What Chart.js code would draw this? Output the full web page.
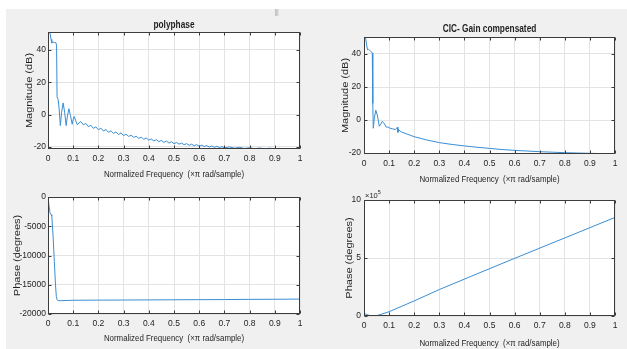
<!DOCTYPE html>
<html>
<head>
<meta charset="utf-8">
<script src="https://cdn.jsdelivr.net/npm/chart.js@4.4.1/dist/chart.umd.min.js"></script>
<style>
  html, body { margin: 0; padding: 0; background: #fff; }
  body { width: 627px; height: 349px; position: relative; overflow: hidden; }
  #panel { position: absolute; left: 6px; top: 9px; right: 0; bottom: 0; background: #f0f0f0; }
  #mark { position: absolute; left: 275px; top: 9px; width: 4px; height: 7px; background: linear-gradient(90deg, #bdbdbd, #e2e2e2); }
  canvas { position: absolute; display: block; }
</style>
</head>
<body>
<div id="panel"></div>
<div id="mark"></div>
<canvas id="magPolyChart" width="313" height="180" style="left:0;top:0"></canvas>
<canvas id="magCicChart" width="314" height="186" style="left:313px;top:0"></canvas>
<canvas id="phPolyChart" width="313" height="169" style="left:0;top:180px"></canvas>
<canvas id="phCicChart" width="314" height="163" style="left:313px;top:186px"></canvas>
<script>
// --- data ---
const freqTicks = [0, 0.1, 0.2, 0.3, 0.4, 0.5, 0.6, 0.7, 0.8, 0.9, 1];
const magTicks = [-20, 0, 20, 40];
const phPolyTicks = [-20000, -15000, -10000, -5000, 0];
const phCicTicks = [0, 500000, 1000000];

// polyphase magnitude (dB)
const freqPoly = [0, 0.004, 0.008, 0.012, 0.015, 0.02, 0.026, 0.031, 0.034, 0.036, 0.04, 0.044, 0.049, 0.054,
  0.06, 0.066, 0.072, 0.077, 0.083, 0.089, 0.096, 0.1, 0.104, 0.11, 0.116,
  0.13, 0.14, 0.15, 0.16, 0.17, 0.18, 0.19, 0.2, 0.21, 0.22, 0.23, 0.24, 0.25, 0.26, 0.27, 0.28, 0.29,
  0.3, 0.31, 0.32, 0.33, 0.34, 0.35, 0.36, 0.37, 0.38, 0.39, 0.4, 0.41, 0.42, 0.43, 0.44, 0.45, 0.46, 0.47,
  0.48, 0.49, 0.5, 0.51, 0.52, 0.53, 0.54, 0.55, 0.56, 0.57, 0.58, 0.59, 0.6, 0.61, 0.62, 0.63, 0.64, 0.65,
  0.66, 0.67, 0.68, 0.69, 0.7, 0.72, 0.74, 0.76, 0.78, 0.8, 0.82, 0.84, 0.86, 0.88, 0.9, 0.92, 0.94, 0.96, 0.98, 1];
const magPoly = [49.8, 51.0, 50.4, 46.5, 44.3, 44.8, 44.7, 44.5, 43, 11, 9.5, 4, -6.8, 1.5,
  7.2, 1.5, -6.8, -1, 3.6, -0.5, -6, -3, -1.2, -3.8, -6.2,
  -4.3, -6.3, -5.5, -7.5, -6.6, -8.5, -7.6, -9.4, -8.4, -10.2, -9.2, -11.0, -10.0, -11.7, -10.7, -12.4, -11.3,
  -13.0, -12.2, -13.5, -12.8, -14.1, -13.4, -14.7, -14.0, -15.3, -14.5, -15.8, -15.1, -16.3, -15.5, -16.7, -16.0, -17.2, -16.4,
  -17.6, -16.8, -18.0, -17.3, -18.3, -17.7, -18.6, -18.0, -19.0, -18.3, -19.3, -18.6, -19.6, -18.9, -19.8, -19.2, -20.1, -19.4,
  -20.3, -19.6, -20.5, -19.8, -20.6, -20.0, -20.8, -20.3, -21.0, -20.5, -21.1, -20.7, -21.2, -20.8, -21.25, -20.9, -21.25, -21.0, -21.25, -21.1];

// CIC gain compensated magnitude (dB)
const freqCic = [0, 0.006, 0.01, 0.014, 0.018, 0.022, 0.026, 0.03, 0.033, 0.035, 0.037, 0.041, 0.047, 0.053, 0.061,
  0.067, 0.073, 0.08, 0.088, 0.096, 0.104, 0.115, 0.125, 0.133, 0.135, 0.137, 0.15, 0.175, 0.2, 0.25,
  0.3, 0.35, 0.4, 0.45, 0.5, 0.55, 0.6, 0.65, 0.7, 0.75, 0.8, 0.85, 0.9, 0.95, 1];
const magCic = [50.3, 50.1, 46, 42.5, 42.8, 42.3, 41.8, 41.3, 40.5, 10, -5, 1, 5.9, 3, -3.8,
  -2.5, -0.8, -2, -4.2, -4.3, -5, -5.4, -5.8, -4.4, -7.5, -5.9, -7.3, -8.7, -10.1, -12.1,
  -13.7, -14.8, -15.7, -16.5, -17.2, -17.9, -18.4, -18.8, -19.2, -19.5, -19.8, -20.0, -20.2, -20.35, -20.5];

// polyphase phase (degrees)
const freqPolyPh = [0, 0.004, 0.008, 0.012, 0.015, 0.02, 0.025, 0.03, 0.033, 0.036, 0.04, 0.05, 0.1,
  0.2, 0.3, 0.4, 0.5, 0.6, 0.7, 0.8, 0.9, 1];
const phPoly = [0, -1500, -2700, -3000, -3200, -6500, -11000, -15200, -17000, -17550, -17700, -17720, -17650,
  -17630, -17610, -17590, -17570, -17550, -17530, -17500, -17480, -17450];

// CIC phase (degrees)
const freqCicPh = [0, 0.01, 0.02, 0.03, 0.045, 0.06, 0.1, 0.2, 0.3, 0.45, 0.6, 0.8, 1];
const phCic = [21000, 14000, 6000, 800, 0, 9000, 37000, 130000, 228000, 363000, 497000, 673000, 850000];

const FONT = "'Liberation Sans', Arial, sans-serif";
const TXT = '#1f1f1f';
const AXIS = '#3c3c3c';
const GRID = '#e3e3e3';
const LINE = '#3a8ed4';
const SQUEEZE = 0.83; // the screenshot is a bit narrower than tall
const X_LABEL = 'Normalized Frequency  (×π rad/sample)';

// draw text squeezed horizontally, optionally rotated
function squeezedText(ctx, text, x, y, font, rotate) {
  ctx.save();
  ctx.translate(x, y);
  ctx.scale(SQUEEZE, 1);
  if (rotate) ctx.rotate(-Math.PI / 2);
  ctx.font = font;
  ctx.textAlign = 'center';
  ctx.textBaseline = 'middle';
  ctx.fillText(text, 0, 0);
  ctx.restore();
}

// MATLAB-ish axes: white plot area, box, inward ticks, titles, exponent
const matlabAxes = {
  id: 'matlabAxes',
  beforeDraw(chart) {
    const { ctx, chartArea: a } = chart;
    ctx.save();
    ctx.fillStyle = '#fff';
    ctx.fillRect(a.left, a.top, a.right - a.left, a.bottom - a.top);
    ctx.restore();
  },
  afterDraw(chart, args, opts) {
    const { ctx, chartArea: a, scales: { x, y } } = chart;
    const L = Math.round(a.left) + 0.5, R = Math.round(a.right) - 0.5;
    const T = Math.round(a.top) + 0.5, B = Math.round(a.bottom) - 0.5;
    ctx.save();
    ctx.strokeStyle = AXIS;
    ctx.lineWidth = 1;
    ctx.strokeRect(L, T, R - L, B - T);
    ctx.beginPath();
    x.ticks.forEach(t => {
      const px = Math.round(x.getPixelForValue(t.value)) + 0.5;
      ctx.moveTo(px, B); ctx.lineTo(px, B - 3);
      ctx.moveTo(px, T); ctx.lineTo(px, T + 3);
    });
    y.ticks.forEach(t => {
      const py = Math.round(y.getPixelForValue(t.value)) + 0.5;
      ctx.moveTo(L, py); ctx.lineTo(L + 3, py);
      ctx.moveTo(R, py); ctx.lineTo(R - 3, py);
    });
    ctx.stroke();
    ctx.fillStyle = TXT;
    const cx = (a.left + a.right) / 2, cy = (a.top + a.bottom) / 2;
    squeezedText(ctx, X_LABEL, cx, opts.xTitleY, '9.5px ' + FONT, false);
    squeezedText(ctx, opts.yLabel, opts.yTitleX, cy, '11px ' + FONT, true);
    if (opts.title) {
      squeezedText(ctx, opts.title, cx, a.top - opts.titleGap, 'bold 10px ' + FONT, false);
    }
    if (opts.exponent) {
      ctx.textAlign = 'left';
      ctx.textBaseline = 'alphabetic';
      ctx.font = '7.5px ' + FONT;
      ctx.fillText('×10', a.left + 1, a.top - 2);
      const w = ctx.measureText('×10').width;
      ctx.font = '5.5px ' + FONT;
      ctx.fillText(opts.exponent, a.left + 1 + w, a.top - 6);
    }
    ctx.restore();
  }
};

function makeChart(id, cfg) {
  new Chart(document.getElementById(id), {
    type: 'line',
    data: {
      datasets: [{
        data: cfg.x.map((f, i) => ({ x: f, y: cfg.y[i] })),
        borderColor: LINE,
        borderWidth: 1,
        pointRadius: 0,
        tension: 0,
        fill: false
      }]
    },
    options: {
      responsive: false,
      animation: false,
      layout: { padding: { left: 0, right: cfg.right, top: cfg.top, bottom: 0 } },
      plugins: {
        legend: { display: false },
        tooltip: { enabled: false },
        matlabAxes: {
          title: cfg.title, titleGap: cfg.titleGap, exponent: cfg.exponent,
          yLabel: cfg.ylabel, xTitleY: cfg.xTitleY, yTitleX: cfg.yTitleX
        }
      },
      scales: {
        x: {
          type: 'linear',
          min: 0,
          max: 1,
          afterBuildTicks: s => { s.ticks = freqTicks.map(v => ({ value: v })); },
          afterFit: s => { s.height = cfg.xh; },
          grid: { color: GRID, drawTicks: false },
          border: { display: false },
          ticks: {
            font: { family: FONT, size: 8.5 },
            color: TXT,
            padding: 5,
            maxRotation: 0,
            callback: v => String(+v.toFixed(1))
          }
        },
        y: {
          type: 'linear',
          min: cfg.ymin,
          max: cfg.ymax,
          afterBuildTicks: s => { s.ticks = cfg.yticks.map(v => ({ value: v })); },
          afterFit: s => { s.width = cfg.yw; },
          grid: { color: GRID, drawTicks: false },
          border: { display: false },
          ticks: {
            font: { family: FONT, size: 8.5 },
            color: TXT,
            padding: cfg.ypad,
            callback: v => String(cfg.yscale ? v / cfg.yscale : v)
          }
        }
      }
    },
    plugins: [matlabAxes]
  });
}

makeChart('magPolyChart', {
  x: freqPoly, y: magPoly, ymin: -21.3, ymax: 51.1, yticks: magTicks,
  ylabel: 'Magnitude (dB)', title: 'polyphase', titleGap: 7,
  right: 13, top: 32, yw: 48, xh: 31, ypad: 2, xTitleY: 174, yTitleX: 29
});

makeChart('magCicChart', {
  x: freqCic, y: magCic, ymin: -20.6, ymax: 50.3, yticks: magTicks,
  ylabel: 'Magnitude (dB)', title: 'CIC- Gain compensated', titleGap: 8,
  right: 12, top: 37, yw: 51, xh: 32, ypad: 3, xTitleY: 179, yTitleX: 32
});

makeChart('phPolyChart', {
  x: freqPolyPh, y: phPoly, ymin: -20000, ymax: 0, yticks: phPolyTicks,
  ylabel: 'Phase (degrees)',
  right: 13, top: 17, yw: 48, xh: 35, ypad: 2, xTitleY: 158, yTitleX: 17
});

makeChart('phCicChart', {
  x: freqCicPh, y: phCic, ymin: 0, ymax: 1000000, yticks: phCicTicks, yscale: 100000, exponent: '5',
  ylabel: 'Phase (degrees)',
  right: 12, top: 14, yw: 51, xh: 33, ypad: 3, xTitleY: 157, yTitleX: 36
});
</script>
</body>
</html>
